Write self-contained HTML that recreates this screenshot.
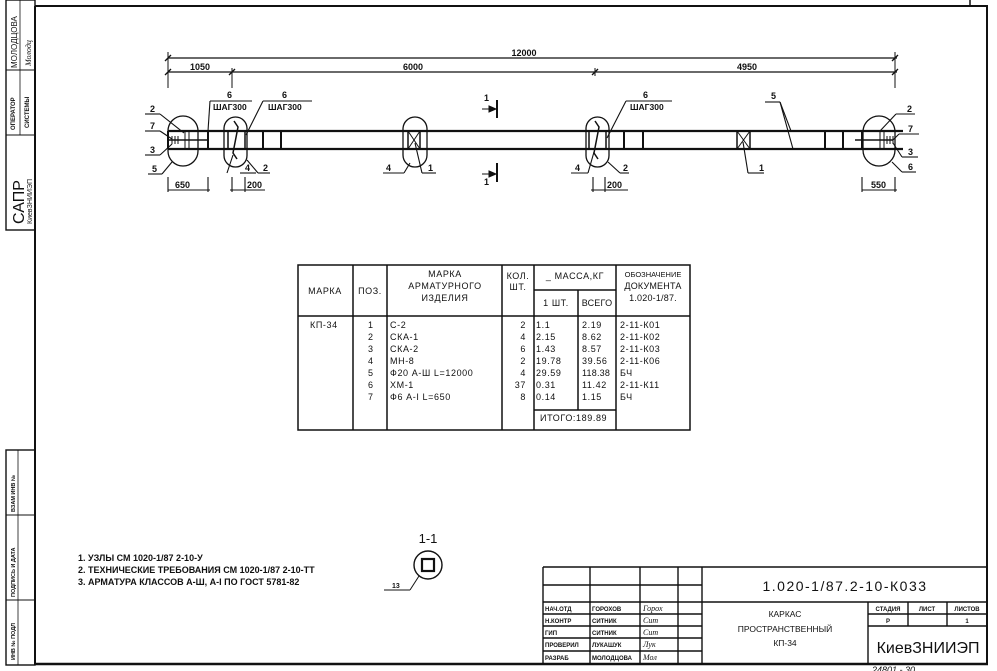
<!DOCTYPE html>
<html><head><meta charset="utf-8"><style>
html,body{margin:0;padding:0;background:#fff;}
svg{display:block;font-family:"Liberation Sans","DejaVu Sans",sans-serif;}
.t{font-size:9px;fill:#111;}
</style></head><body>
<svg width="997" height="671" viewBox="0 0 997 671" xmlns="http://www.w3.org/2000/svg">
<g stroke="#111" fill="none">
<line x1="35" y1="6" x2="988" y2="6" stroke-width="2"/>
<line x1="987" y1="6" x2="987" y2="665" stroke-width="2"/>
<line x1="35" y1="6" x2="35" y2="665" stroke-width="2"/>
<line x1="35" y1="664" x2="988" y2="664" stroke-width="2.5"/>
<line x1="970" y1="0" x2="970" y2="6" stroke-width="1.5"/>
<rect x="6" y="0" width="29" height="230" stroke-width="1.4"/>
<line x1="6" y1="70" x2="35" y2="70"/><line x1="6" y1="135" x2="35" y2="135"/>
<line x1="20" y1="0" x2="20" y2="135" stroke-width="0.8"/>
<rect x="6" y="450" width="29" height="215" stroke-width="1.4"/>
<line x1="6" y1="515" x2="35" y2="515"/><line x1="6" y1="600" x2="35" y2="600"/>
<line x1="18" y1="450" x2="18" y2="665" stroke-width="0.8"/>

<line x1="168" y1="58" x2="897" y2="58" stroke-width="1.3"/>
<line x1="168" y1="72" x2="897" y2="72" stroke-width="1.3"/>
<line x1="168" y1="52" x2="168" y2="88"/><line x1="232" y1="68" x2="232" y2="88"/>
<line x1="595" y1="68" x2="595" y2="76"/><line x1="895" y1="52" x2="895" y2="88"/>
<g stroke-width="1.3"><line x1="165" y1="61" x2="171" y2="55"/><line x1="165" y1="75" x2="171" y2="69"/><line x1="229" y1="75" x2="235" y2="69"/><line x1="592" y1="75" x2="598" y2="69"/><line x1="892" y1="61" x2="898" y2="55"/><line x1="892" y1="75" x2="898" y2="69"/></g>

<line x1="168" y1="131" x2="903" y2="131" stroke-width="2.2"/>
<line x1="168" y1="149" x2="903" y2="149" stroke-width="2.2"/>
<rect x="168" y="116" width="30" height="50" rx="15" stroke-width="1.3"/>
<line x1="168" y1="131" x2="168" y2="149" stroke-width="2"/>
<line x1="185" y1="131" x2="185" y2="149" stroke-width="1"/><line x1="189" y1="131" x2="189" y2="149" stroke-width="1"/>
<line x1="172" y1="136" x2="172" y2="144"/><line x1="175" y1="136" x2="175" y2="144"/><line x1="178" y1="136" x2="178" y2="144"/>
<line x1="168" y1="140" x2="208" y2="140" stroke-width="1.6"/>
<line x1="208" y1="131" x2="208" y2="149" stroke-width="2"/>
<rect x="224" y="117" width="23" height="50" rx="11.5" stroke-width="1.3"/>
<line x1="228" y1="131" x2="228" y2="149" stroke-width="1.5"/><line x1="245" y1="131" x2="245" y2="149" stroke-width="1.5"/>
<path d="M234 121 L238 127 L233 153 L237 159" stroke-width="1.5"/>
<line x1="263" y1="131" x2="263" y2="149" stroke-width="2"/><line x1="281" y1="131" x2="281" y2="149" stroke-width="2"/>
<rect x="403" y="117" width="24" height="50" rx="12" stroke-width="1.3"/>
<rect x="408" y="131" width="12" height="18" stroke-width="1.5"/>
<line x1="408" y1="131" x2="420" y2="149"/><line x1="420" y1="131" x2="408" y2="149"/>
<line x1="497" y1="100" x2="497" y2="118" stroke-width="2"/><line x1="482" y1="109" x2="497" y2="109"/>
<polygon points="489,106 496,109 489,112" fill="#111"/>
<line x1="497" y1="163" x2="497" y2="182" stroke-width="2"/><line x1="482" y1="174" x2="497" y2="174"/>
<polygon points="489,171 496,174 489,177" fill="#111"/>
<rect x="586" y="117" width="23" height="50" rx="11.5" stroke-width="1.3"/>
<line x1="589" y1="131" x2="589" y2="149" stroke-width="1.5"/><line x1="606" y1="131" x2="606" y2="149" stroke-width="1.5"/>
<path d="M595 121 L599 127 L594 153 L598 159" stroke-width="1.5"/>
<line x1="624" y1="131" x2="624" y2="149" stroke-width="2"/><line x1="643" y1="131" x2="643" y2="149" stroke-width="2"/>
<rect x="737" y="131" width="13" height="18" stroke-width="1.5"/>
<line x1="737" y1="131" x2="750" y2="149"/><line x1="750" y1="131" x2="737" y2="149"/>
<line x1="825" y1="131" x2="825" y2="149" stroke-width="2"/><line x1="843" y1="131" x2="843" y2="149" stroke-width="2"/>
<rect x="863" y="116" width="32" height="50" rx="16" stroke-width="1.3"/>
<line x1="862" y1="131" x2="862" y2="149" stroke-width="2"/>
<line x1="855" y1="140" x2="893" y2="140" stroke-width="1.6"/>
<line x1="880" y1="131" x2="880" y2="149"/><line x1="884" y1="131" x2="884" y2="149"/>
<line x1="887" y1="136" x2="887" y2="144"/><line x1="890" y1="136" x2="890" y2="144"/><line x1="893" y1="136" x2="893" y2="144"/>

<g stroke-width="1.1">
<line x1="145" y1="114" x2="160" y2="114"/><line x1="160" y1="114" x2="184" y2="133"/>
<line x1="145" y1="131" x2="160" y2="131"/><line x1="160" y1="131" x2="172" y2="139"/>
<line x1="145" y1="155" x2="160" y2="155"/><line x1="160" y1="155" x2="172" y2="144"/>
<line x1="148" y1="174" x2="162" y2="174"/><line x1="162" y1="174" x2="172" y2="162"/>
<line x1="210" y1="101" x2="252" y2="101"/><line x1="210" y1="101" x2="208" y2="131"/>
<line x1="263" y1="101" x2="312" y2="101"/><line x1="263" y1="101" x2="246" y2="135"/>
<line x1="240" y1="173" x2="256" y2="173"/><line x1="233" y1="155" x2="227" y2="173"/>
<line x1="258" y1="173" x2="270" y2="173"/><line x1="247" y1="160" x2="258" y2="173"/>
<line x1="383" y1="173" x2="404" y2="173"/><line x1="404" y1="173" x2="410" y2="163"/>
<line x1="422" y1="173" x2="436" y2="173"/><line x1="422" y1="173" x2="415" y2="143"/>
<line x1="626" y1="101" x2="672" y2="101"/><line x1="626" y1="101" x2="607" y2="138"/>
<line x1="571" y1="173" x2="588" y2="173"/><line x1="588" y1="173" x2="594" y2="152"/>
<line x1="620" y1="173" x2="629" y2="173"/><line x1="608" y1="162" x2="620" y2="173"/>
<line x1="748" y1="173" x2="764" y2="173"/><line x1="748" y1="173" x2="743" y2="142"/>
<line x1="765" y1="102" x2="780" y2="102"/><line x1="780" y1="102" x2="791" y2="131"/><line x1="780" y1="102" x2="793" y2="149"/>
<line x1="880" y1="131" x2="896" y2="114"/><line x1="896" y1="114" x2="915" y2="114"/>
<line x1="893" y1="140" x2="899" y2="134"/><line x1="899" y1="134" x2="919" y2="134"/>
<line x1="893" y1="143" x2="902" y2="157"/><line x1="902" y1="157" x2="918" y2="157"/>
<line x1="892" y1="162" x2="902" y2="172"/><line x1="902" y1="172" x2="916" y2="172"/>
</g>
<g stroke-width="1.1">
<line x1="168" y1="190" x2="210" y2="190"/><line x1="168" y1="177" x2="168" y2="192"/><line x1="208" y1="177" x2="208" y2="192"/>
<line x1="230" y1="190" x2="265" y2="190"/><line x1="232" y1="177" x2="232" y2="192"/><line x1="245" y1="177" x2="245" y2="192"/>
<line x1="591" y1="190" x2="628" y2="190"/><line x1="593" y1="177" x2="593" y2="192"/><line x1="605" y1="177" x2="605" y2="192"/>
<line x1="862" y1="190" x2="897" y2="190"/><line x1="862" y1="177" x2="862" y2="192"/><line x1="895" y1="177" x2="895" y2="192"/>
</g>

<g stroke-width="1.5">
<rect x="298" y="265" width="392" height="165"/>
<line x1="298" y1="316" x2="690" y2="316"/>
<line x1="353" y1="265" x2="353" y2="430"/><line x1="387" y1="265" x2="387" y2="430"/>
<line x1="502" y1="265" x2="502" y2="430"/><line x1="534" y1="265" x2="534" y2="430"/>
<line x1="616" y1="265" x2="616" y2="430"/>
<line x1="534" y1="290" x2="616" y2="290"/>
<line x1="578" y1="290" x2="578" y2="410"/>
<line x1="534" y1="410" x2="616" y2="410"/>
</g>

<circle cx="428" cy="565" r="14" stroke-width="1.4"/>
<rect x="422" y="559" width="12" height="12" stroke-width="2.2"/>
<line x1="384" y1="590" x2="410" y2="590"/><line x1="410" y1="590" x2="419" y2="576"/>

<g stroke-width="1.4">
<line x1="543" y1="567" x2="988" y2="567"/>
<line x1="543" y1="567" x2="543" y2="664"/>
<line x1="590" y1="567" x2="590" y2="664"/><line x1="640" y1="567" x2="640" y2="664"/>
<line x1="678" y1="567" x2="678" y2="664"/><line x1="702" y1="567" x2="702" y2="664"/>
<line x1="543" y1="585" x2="702" y2="585"/><line x1="543" y1="602" x2="988" y2="602"/>
<line x1="543" y1="614" x2="702" y2="614"/><line x1="543" y1="626" x2="702" y2="626"/>
<line x1="543" y1="638" x2="702" y2="638"/><line x1="543" y1="651" x2="702" y2="651"/>
<line x1="868" y1="602" x2="868" y2="664"/>
<line x1="868" y1="614" x2="988" y2="614"/><line x1="868" y1="626" x2="988" y2="626"/>
<line x1="908" y1="602" x2="908" y2="626"/><line x1="947" y1="602" x2="947" y2="626"/>
</g>
</g>

<g fill="#111">
<text transform="translate(17,68) rotate(-90)" font-size="8">МОЛОДЦОВА</text>
<text transform="translate(31,66) rotate(-90)" font-size="8" font-style="italic" font-family="Liberation Serif">Молодц</text>
<text transform="translate(15,130) rotate(-90)" font-size="6" font-weight="bold">ОПЕРАТОР</text>
<text transform="translate(29,128) rotate(-90)" font-size="6" font-weight="bold">СИСТЕМЫ</text>
<text transform="translate(24,224) rotate(-90)" font-size="16">САПР</text>
<text transform="translate(32,224) rotate(-90)" font-size="7">КиевЗНИИЭП</text>
<text transform="translate(15,512) rotate(-90)" font-size="5.5" font-weight="bold">ВЗАМ ИНВ №</text>
<text transform="translate(15,597) rotate(-90)" font-size="5.5" font-weight="bold">ПОДПИСЬ И ДАТА</text>
<text transform="translate(15,660) rotate(-90)" font-size="5.5" font-weight="bold">ИНВ № ПОДЛ</text>
</g>

<g class="t" font-weight="bold">
<text x="524" y="56" text-anchor="middle">12000</text>
<text x="200" y="70" text-anchor="middle">1050</text>
<text x="413" y="70" text-anchor="middle">6000</text>
<text x="747" y="70" text-anchor="middle">4950</text>
<text x="150" y="112">2</text><text x="150" y="129">7</text><text x="150" y="153">3</text><text x="152" y="172">5</text>
<text x="227" y="98">6</text><text x="213" y="110" font-size="8.5">ШАГ300</text>
<text x="282" y="98">6</text><text x="268" y="110" font-size="8.5">ШАГ300</text>
<text x="245" y="171">4</text><text x="263" y="171">2</text>
<text x="386" y="171">4</text><text x="428" y="171">1</text>
<text x="484" y="101">1</text><text x="484" y="185">1</text>
<text x="643" y="98">6</text><text x="630" y="110" font-size="8.5">ШАГ300</text>
<text x="575" y="171">4</text><text x="623" y="171">2</text>
<text x="759" y="171">1</text><text x="771" y="99">5</text>
<text x="907" y="112">2</text><text x="908" y="132">7</text><text x="908" y="155">3</text><text x="908" y="170">6</text>
<text x="175" y="188">650</text><text x="247" y="188">200</text>
<text x="607" y="188">200</text><text x="871" y="188">550</text>
</g>

<g class="t" font-size="8" letter-spacing="0.6">
<text x="325" y="294" text-anchor="middle">МАРКА</text>
<text x="370" y="294" text-anchor="middle">ПОЗ.</text>
<text x="445" y="277" text-anchor="middle">МАРКА</text>
<text x="445" y="289" text-anchor="middle">АРМАТУРНОГО</text>
<text x="445" y="301" text-anchor="middle">ИЗДЕЛИЯ</text>
<text x="518" y="279" text-anchor="middle">КОЛ.</text>
<text x="518" y="290" text-anchor="middle">ШТ.</text>
<text x="575" y="279" text-anchor="middle">_ МАССА,КГ</text>
<text x="556" y="306" text-anchor="middle">1 ШТ.</text>
<text x="597" y="306" text-anchor="middle" letter-spacing="0.2">ВСЕГО</text>
<text x="653" y="277" text-anchor="middle" font-size="7.5" letter-spacing="0">ОБОЗНАЧЕНИЕ</text>
<text x="653" y="289" text-anchor="middle" letter-spacing="0.2">ДОКУМЕНТА</text>
<text x="653" y="301" text-anchor="middle" letter-spacing="0.2">1.020-1/87.</text>
<text x="310" y="328">КП-34</text>
<text x="368" y="328">1</text><text x="368" y="340">2</text><text x="368" y="352">3</text><text x="368" y="364">4</text><text x="368" y="376">5</text><text x="368" y="388">6</text><text x="368" y="400">7</text>
<text x="390" y="328">С-2</text><text x="390" y="340">СКА-1</text><text x="390" y="352">СКА-2</text><text x="390" y="364">МН-8</text><text x="390" y="376">Ф20 А-Ш L=12000</text><text x="390" y="388">ХМ-1</text><text x="390" y="400">Ф6 А-I L=650</text>
<text x="526" y="328" text-anchor="end">2</text><text x="526" y="340" text-anchor="end">4</text><text x="526" y="352" text-anchor="end">6</text><text x="526" y="364" text-anchor="end">2</text><text x="526" y="376" text-anchor="end">4</text><text x="526" y="388" text-anchor="end">37</text><text x="526" y="400" text-anchor="end">8</text>
<text x="536" y="328">1.1</text><text x="536" y="340">2.15</text><text x="536" y="352">1.43</text><text x="536" y="364">19.78</text><text x="536" y="376">29.59</text><text x="536" y="388">0.31</text><text x="536" y="400">0.14</text>
<text x="582" y="328">2.19</text><text x="582" y="340">8.62</text><text x="582" y="352">8.57</text><text x="582" y="364">39.56</text><text x="582" y="376" letter-spacing="0.2">118.38</text><text x="582" y="388">11.42</text><text x="582" y="400">1.15</text>
<text x="540" y="421">ИТОГО:189.89</text>
<text x="620" y="328">2-11-К01</text><text x="620" y="340">2-11-К02</text><text x="620" y="352">2-11-К03</text><text x="620" y="364">2-11-К06</text><text x="620" y="376">БЧ</text><text x="620" y="388">2-11-К11</text><text x="620" y="400">БЧ</text>
</g>

<g class="t" font-size="9" font-weight="bold">
<text x="78" y="561">1. УЗЛЫ СМ  1020-1/87 2-10-У</text>
<text x="78" y="573">2. ТЕХНИЧЕСКИЕ ТРЕБОВАНИЯ СМ  1020-1/87 2-10-ТТ</text>
<text x="78" y="585">3. АРМАТУРА КЛАССОВ А-Ш, А-I ПО ГОСТ 5781-82</text>
<text x="428" y="543" text-anchor="middle" font-size="13" font-weight="normal">1-1</text>
<text x="392" y="588" font-size="7">13</text>
</g>

<g fill="#111">
<text x="845" y="591" text-anchor="middle" font-size="14" letter-spacing="1.5">1.020-1/87.2-10-К033</text>
<g font-size="6" font-weight="bold">
<text x="545" y="611">НАЧ.ОТД</text><text x="592" y="611">ГОРОХОВ</text>
<text x="545" y="623">Н.КОНТР</text><text x="592" y="623">СИТНИК</text>
<text x="545" y="635">ГИП</text><text x="592" y="635">СИТНИК</text>
<text x="545" y="647">ПРОВЕРИЛ</text><text x="592" y="647">ЛУКАШУК</text>
<text x="545" y="660">РАЗРАБ</text><text x="592" y="660">МОЛОДЦОВА</text>
<text x="888" y="611" text-anchor="middle">СТАДИЯ</text><text x="927" y="611" text-anchor="middle">ЛИСТ</text><text x="967" y="611" text-anchor="middle">ЛИСТОВ</text>
<text x="888" y="623" text-anchor="middle">Р</text><text x="967" y="623" text-anchor="middle">1</text>
</g>
<g font-family="Liberation Serif" font-style="italic" font-size="8">
<text x="643" y="611">Горох</text><text x="643" y="623">Сит</text><text x="643" y="635">Сит</text><text x="643" y="647">Лук</text><text x="643" y="660">Мол</text>
</g>
<text x="785" y="617" text-anchor="middle" font-size="8.5">КАРКАС</text>
<text x="785" y="632" text-anchor="middle" font-size="8.5">ПРОСТРАНСТВЕННЫЙ</text>
<text x="785" y="646" text-anchor="middle" font-size="8.5">КП-34</text>
<text x="928" y="653" text-anchor="middle" font-size="16">КиевЗНИИЭП</text>
<text x="872" y="673" font-size="9" font-style="italic">24801 - 30</text>
</g>
</svg>
</body></html>
